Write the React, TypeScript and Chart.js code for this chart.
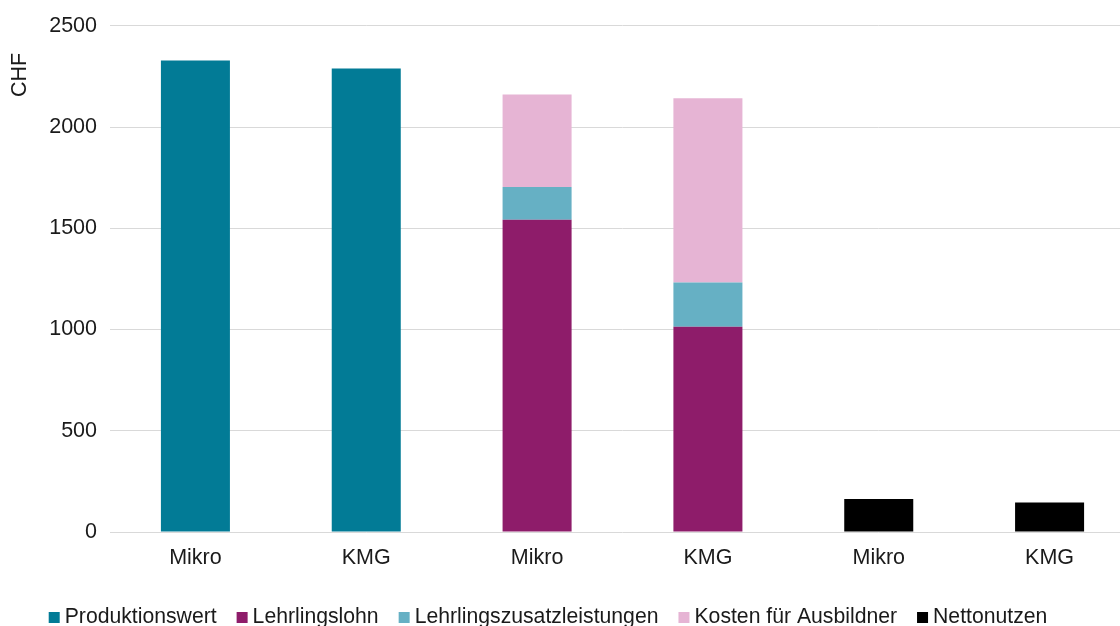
import React, { useEffect, useRef } from "react";
import { Chart, registerables } from "chart.js";

Chart.register(...registerables);

const categories = ["Mikro", "KMG", "Mikro", "KMG", "Mikro", "KMG"];
const produktionswert = [2329, 2289, null, null, null, null];
const lehrlingslohn = [null, null, 1542, 1014, null, null];
const zusatzleistungen = [null, null, 162, 218, null, null];
const kostenAusbildner = [null, null, 457, 910, null, null];
const nettonutzen = [null, null, null, null, 163, 146];
const yTitle = "CHF";

const FONT = "'Liberation Sans', Arial, Helvetica, sans-serif";
const FS = 21.5;
const LEGEND_FS = 21.2;
const TXT = "#1a1a1a";

const titlePlugin = {
  id: "yTitleText",
  afterDraw(chart: any) {
    const ctx = chart.ctx;
    ctx.save();
    ctx.font = `${FS}px ${FONT}`;
    ctx.fillStyle = TXT;
    ctx.textAlign = "center";
    ctx.textBaseline = "middle";
    ctx.translate(chart.chartArea.left - 90, 75);
    ctx.rotate(-Math.PI / 2);
    ctx.fillText(yTitle, 0, 0);
    ctx.restore();
  },
};

const legendPlugin = {
  id: "customLegend",
  afterDraw(chart: any) {
    const ctx = chart.ctx;
    const box = 11;
    const gap = 5;
    const spacing = 20;
    ctx.save();
    ctx.font = `${LEGEND_FS}px ${FONT}`;
    const items = chart.data.datasets.map((d: any) => ({
      label: d.label,
      color: d.backgroundColor,
      w: ctx.measureText(d.label).width,
    }));
    const total =
      items.reduce((s: number, it: any) => s + box + gap + it.w, 0) + spacing * (items.length - 1);
    const center = chart.width / 2;
    let x = center - total / 2;
    const baseline = 623;
    for (const it of items) {
      ctx.fillStyle = it.color;
      ctx.fillRect(x, 612, box, box);
      ctx.fillStyle = TXT;
      ctx.textAlign = "left";
      ctx.textBaseline = "alphabetic";
      ctx.fillText(it.label, x + box + gap, baseline);
      x += box + gap + it.w + spacing;
    }
    ctx.restore();
  },
};

export default function App() {
  const ref = useRef<HTMLCanvasElement | null>(null);
  useEffect(() => {
    if (!ref.current) return;
    const mk = (label: string, data: any[], color: string) => ({
      label,
      data,
      backgroundColor: color,
      borderWidth: 0,
      barPercentage: 0.404,
      categoryPercentage: 1,
    });
    const chart = new Chart(ref.current, {
      type: "bar",
      data: {
        labels: categories,
        datasets: [
          mk("Produktionswert", produktionswert, "#027B96"),
          mk("Lehrlingslohn", lehrlingslohn, "#8E1C6A"),
          mk("Lehrlingszusatzleistungen", zusatzleistungen, "#66B0C4"),
          mk("Kosten für Ausbildner", kostenAusbildner, "#E6B4D4"),
          mk("Nettonutzen", nettonutzen, "#000000"),
        ],
      },
      options: {
        animation: false,
        responsive: true,
        maintainAspectRatio: false,
        layout: { padding: { left: 0, right: 0, top: 24, bottom: 0 } },
        plugins: {
          tooltip: { enabled: false },
          legend: { display: false },
        },
        scales: {
          x: {
            stacked: true,
            grid: { display: false, drawTicks: false },
            border: { display: false },
            ticks: {
              color: TXT,
              padding: 13,
              font: { family: FONT, size: FS },
              maxRotation: 0,
            },
            afterFit: (scale: any) => {
              scale.height = 94;
            },
          },
          y: {
            stacked: true,
            min: 0,
            max: 2500,
            ticks: {
              stepSize: 500,
              color: TXT,
              padding: 13,
              font: { family: FONT, size: FS },
              callback: (v: any) => String(v),
            },
            grid: { color: "#d9d9d9", lineWidth: 1, drawTicks: false },
            border: { display: false },
            afterFit: (scale: any) => {
              scale.width = 149;
            },
          },
        },
      },
      plugins: [titlePlugin, legendPlugin],
    } as any);
    return () => chart.destroy();
  }, []);
  return (
    <div
      style={{
        position: "fixed",
        left: 0,
        top: 0,
        width: 1120,
        height: 626,
        overflow: "hidden",
        background: "#fff",
      }}
    >
      <div style={{ position: "absolute", left: -39, top: 0, width: 1174, height: 626 }}>
        <canvas ref={ref} />
      </div>
    </div>
  );
}
